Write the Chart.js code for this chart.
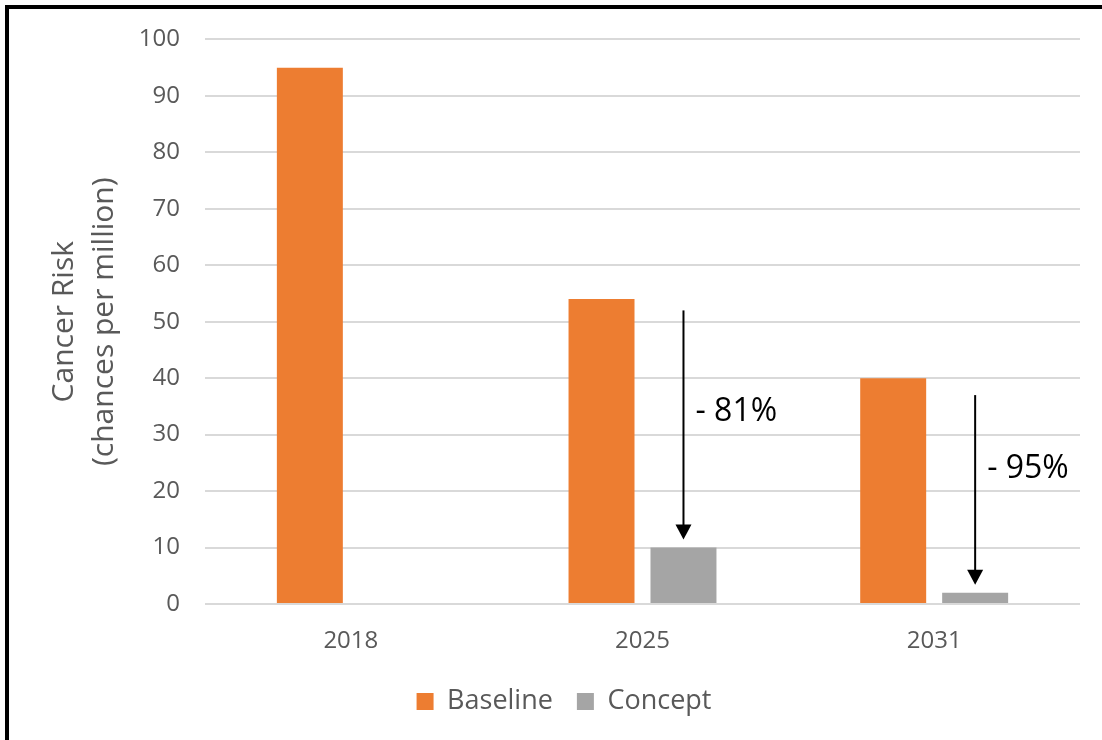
<!DOCTYPE html>
<html>
<head>
<meta charset="utf-8">
<script src="https://cdn.jsdelivr.net/npm/chart.js@4/dist/chart.umd.min.js"></script>
<style>
  body { margin: 0; background: #fff; }
  #wrap { position: relative; width: 1102px; height: 740px; }
  #frame { position: absolute; left: 5px; top: 5px; right: 0; bottom: 0; border-top: 4px solid #000; border-left: 4px solid #000; pointer-events: none; }
</style>
</head>
<body>
<div id="wrap">
  <canvas id="riskChart" width="1102" height="740"></canvas>
  <div id="frame"></div>
</div>
<script>
// Kategorie (lata)
const years = ['2018', '2025', '2031'];

// Ryzyko nowotworowe (szanse na milion)
const baselineValues = [95, 54, 40];
const conceptValues = [null, 10, 2];

// Strzałki spadku: od jakiej wartości startują i opisy
const arrowFrom = [null, 52, 37];
const arrowLabels = [null, '- 81%', '- 95%'];
const arrowLabelAt = [null, 34, 24];

const textColor = '#595959';
const fontFamily = '"Open Sans", "Liberation Sans", sans-serif';

// Plugin rysujący strzałki z opisem nad słupkami "Concept"
const arrowPlugin = {
    id: 'reductionArrows',
    afterDatasetsDraw(chart) {
        const { ctx, scales: { y } } = chart;
        const meta = chart.getDatasetMeta(1);
        ctx.save();
        arrowFrom.forEach((from, i) => {
            if (from === null) return;
            const bx = meta.data[i].x;
            const y0 = y.getPixelForValue(from);
            const tip = y.getPixelForValue(conceptValues[i]) - 8;
            const head = 15;
            ctx.strokeStyle = '#000';
            ctx.fillStyle = '#000';
            ctx.lineWidth = 2;
            ctx.beginPath();
            ctx.moveTo(bx, y0);
            ctx.lineTo(bx, tip - head + 1);
            ctx.stroke();
            ctx.beginPath();
            ctx.moveTo(bx - 8, tip - head);
            ctx.lineTo(bx + 8, tip - head);
            ctx.lineTo(bx, tip);
            ctx.closePath();
            ctx.fill();
            ctx.font = '32px ' + fontFamily;
            ctx.textAlign = 'left';
            ctx.textBaseline = 'middle';
            ctx.fillText(arrowLabels[i], bx + 12, y.getPixelForValue(arrowLabelAt[i]));
        });
        ctx.restore();
    }
};

const ctxRisk = document.getElementById('riskChart').getContext('2d');

const riskChart = new Chart(ctxRisk, {
    type: 'bar',
    data: {
        labels: years,
        datasets: [{
            label: 'Baseline',
            data: baselineValues,
            backgroundColor: '#ED7D31',
            categoryPercentage: 0.562,
            barPercentage: 0.805
        }, {
            label: 'Concept',
            data: conceptValues,
            backgroundColor: '#A5A5A5',
            categoryPercentage: 0.562,
            barPercentage: 0.805
        }]
    },
    options: {
        responsive: false,
        animation: false,
        layout: { padding: { top: 38, right: 22, bottom: 15, left: 48 } },
        plugins: {
            legend: {
                position: 'bottom',
                labels: {
                    color: textColor,
                    font: { family: fontFamily, size: 27 },
                    boxWidth: 17,
                    boxHeight: 17,
                    padding: 24
                }
            },
            tooltip: { enabled: false }
        },
        scales: {
            x: {
                grid: { display: false },
                border: { display: false },
                ticks: {
                    color: textColor,
                    font: { family: fontFamily, size: 24 },
                    padding: 15
                },
                afterFit(scale) { scale.height = 60; }
            },
            y: {
                min: 0,
                max: 100,
                ticks: {
                    stepSize: 10,
                    color: textColor,
                    font: { family: fontFamily, size: 24 },
                    padding: 25
                },
                grid: { color: '#D9D9D9', lineWidth: 2, drawTicks: false },
                border: { display: false },
                title: {
                    display: true,
                    text: ['Cancer Risk', '(chances per million)'],
                    color: textColor,
                    font: { family: fontFamily, size: 30, lineHeight: 1.33 },
                    padding: { top: -3, bottom: 0 }
                },
                afterFit(scale) { scale.width = 157; }
            }
        }
    },
    plugins: [arrowPlugin]
});
</script>
</body>
</html>
